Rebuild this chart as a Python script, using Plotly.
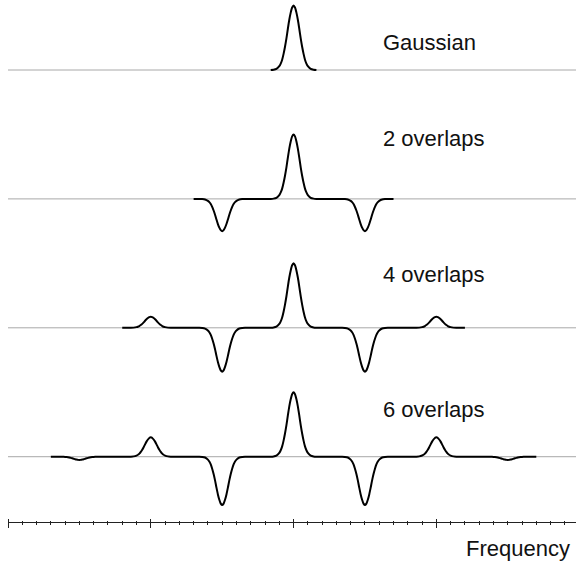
import plotly.graph_objects as go

# ---- data ----
LOBE_OFFSETS = [-0.16, -0.14, -0.12, -0.10, -0.09, -0.08, -0.07, -0.06, -0.05, -0.04, -0.03, -0.02, -0.01, 0.0,
                0.01, 0.02, 0.03, 0.04, 0.05, 0.06, 0.07, 0.08, 0.09, 0.10, 0.12, 0.14, 0.16]
LOBE_PROFILE = [0.0, 0.004, 0.017, 0.06, 0.10, 0.16, 0.25, 0.36, 0.49, 0.64, 0.78, 0.89, 0.97, 1.0,
                0.97, 0.89, 0.78, 0.64, 0.49, 0.36, 0.25, 0.16, 0.10, 0.06, 0.017, 0.004, 0.0]

row_labels = ["Gaussian", "2 overlaps", "4 overlaps", "6 overlaps"]
row_offsets = [0, -2, -4, -6]

gauss_centers = [0.0]
gauss_amps = [1.0]

ov2_centers = [-0.5, 0.0, 0.5]
ov2_amps = [-0.50, 1.0, -0.50]

ov4_centers = [-1.0, -0.5, 0.0, 0.5, 1.0]
ov4_amps = [0.17, -0.68, 1.0, -0.68, 0.17]

ov6_centers = [-1.5, -1.0, -0.5, 0.0, 0.5, 1.0, 1.5]
ov6_amps = [-0.05, 0.30, -0.75, 1.0, -0.75, 0.30, -0.05]

# flat tails beyond the outermost lobe (frequency units)
tail_extent = [0.0, 0.2, 0.2, 0.2]

major_ticks = [-2, -1, 0, 1, 2]
minor_dtick = 0.1

rows = [(gauss_centers, gauss_amps), (ov2_centers, ov2_amps),
        (ov4_centers, ov4_amps), (ov6_centers, ov6_amps)]

X_RANGE = [-2.0, 1.978]
Y_RANGE = [-7.013, 1.086]

fig = go.Figure()

for (centers, amps), off, tail in zip(rows, row_offsets, tail_extent):
    xs, ys = [], []
    if tail > 0:
        xs.append(centers[0] - tail)
        ys.append(off)
    for c, a in zip(centers, amps):
        for d, p in zip(LOBE_OFFSETS, LOBE_PROFILE):
            xs.append(c + d)
            ys.append(off + a * p)
    if tail > 0:
        xs.append(centers[-1] + tail)
        ys.append(off)
    fig.add_trace(go.Scatter(x=xs, y=ys, mode="lines",
                             line=dict(color="#000000", width=2, shape="spline", smoothing=0.6),
                             hoverinfo="skip", showlegend=False))
    fig.add_shape(type="line", xref="paper", x0=0, x1=1, yref="y", y0=off, y1=off,
                  line=dict(color="#a8a8a8", width=1), layer="below")

FONT = "Liberation Sans, Arial, Helvetica, sans-serif"
label_y = [0.42, -1.07, -3.17, -5.26]
for lab, ly in zip(row_labels, label_y):
    fig.add_annotation(x=0.612, y=ly, xref="x", yref="y", text=lab, showarrow=False,
                       xanchor="left", yanchor="middle",
                       font=dict(family=FONT, size=22, color="#111111"))

fig.add_annotation(x=0.993, y=-0.05, xref="paper", yref="paper", text="Frequency", showarrow=False,
                   xanchor="right", yanchor="middle",
                   font=dict(family=FONT, size=22, color="#111111"))

PLOT_H = 565 - 43  # plot-area height in px, used to centre the tick marks on the axis line
TICK_COLOR = "#222222"

fig.update_layout(
    width=576, height=565,
    margin=dict(l=8, r=0, t=0, b=43),
    paper_bgcolor="white", plot_bgcolor="white",
    xaxis=dict(range=X_RANGE, showticklabels=False, showgrid=False, zeroline=False, ticks="",
               showline=True, linecolor=TICK_COLOR, linewidth=1),
    # major ticks, centred on the axis line
    xaxis2=dict(range=X_RANGE, tickvals=major_ticks, ticks="outside", ticklen=9, tickwidth=1,
                tickcolor=TICK_COLOR, showticklabels=False, showgrid=False, zeroline=False,
                overlaying="x", anchor="free", position=4.5 / PLOT_H, showline=False),
    # minor ticks, centred on the axis line
    xaxis3=dict(range=X_RANGE, dtick=minor_dtick, tick0=0, ticks="outside", ticklen=4, tickwidth=1,
                tickcolor=TICK_COLOR, showticklabels=False, showgrid=False, zeroline=False,
                overlaying="x", anchor="free", position=2.0 / PLOT_H, showline=False),
    yaxis=dict(range=Y_RANGE, visible=False, showgrid=False, zeroline=False),
)
# empty traces so that the tick-only axes are drawn
fig.add_trace(go.Scatter(x=[None], y=[None], xaxis="x2", yaxis="y", showlegend=False, hoverinfo="skip"))
fig.add_trace(go.Scatter(x=[None], y=[None], xaxis="x3", yaxis="y", showlegend=False, hoverinfo="skip"))

fig.write_html("out.html", config={"displayModeBar": False},
               post_script="document.body.style.margin='0';")
